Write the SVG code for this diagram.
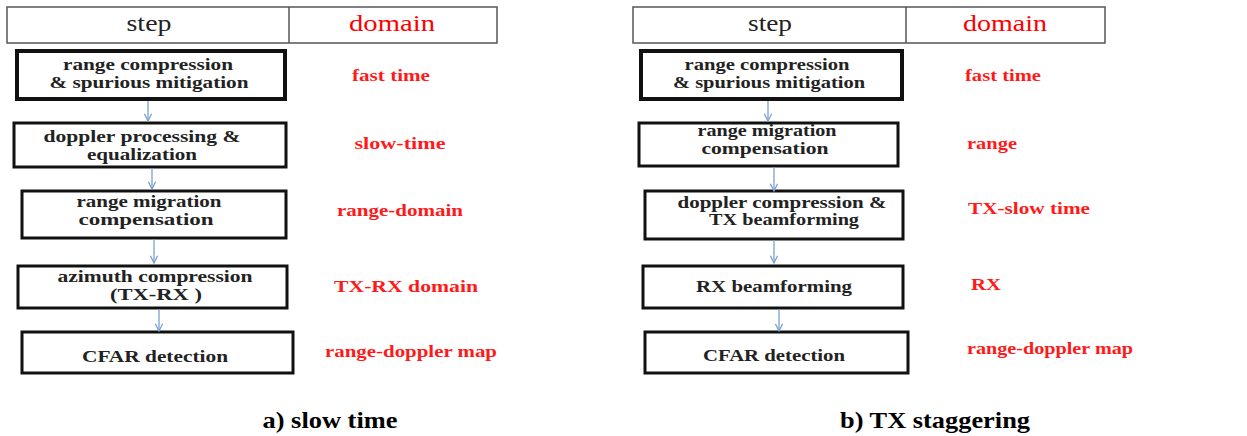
<svg xmlns="http://www.w3.org/2000/svg" width="1247" height="436" viewBox="0 0 1247 436">
  <style>
    .hdr { fill: #fff; stroke: #555; stroke-width: 1.5; }
    .box { fill: #fff; stroke: #111; stroke-width: 3; }
    .box1 { fill: #fff; stroke: #111; stroke-width: 4; }
    .th { font-family: "Liberation Serif", "Times New Roman", serif; font-size: 24px; text-anchor: middle; }
    .step { fill: #222; }
    .dom { fill: #ff0000; }
    .t { font-family: "Liberation Serif", "Times New Roman", serif; font-size: 16.5px; font-weight: bold; fill: #222; text-anchor: middle; }
    .d { font-family: "Liberation Serif", "Times New Roman", serif; font-size: 17px; font-weight: bold; fill: #ff1a1a; text-anchor: middle; }
    .cap { font-family: "Liberation Serif", "Times New Roman", serif; font-size: 23px; font-weight: bold; fill: #000; text-anchor: middle; }
    .conn line { stroke: #7aa0d4; stroke-width: 1.3; marker-end: url(#head); }
  </style>
  <defs>
    <marker id="head" viewBox="0 0 10 10" refX="9" refY="5" markerWidth="9" markerHeight="9" markerUnits="userSpaceOnUse" orient="auto">
      <path d="M1,1 L9,5 L1,9" fill="none" stroke="#7aa0d4" stroke-width="1.4"/>
    </marker>
  </defs>
  <rect width="1247" height="436" fill="#fff"/>

  <!-- Left panel: slow time -->
  <g id="a-header">
    <rect class="hdr" x="7" y="7" width="490" height="36"/>
    <line x1="289" y1="7" x2="289" y2="43" stroke="#555" stroke-width="1.5"/>
    <text class="th step" x="149" y="31" textLength="45" lengthAdjust="spacingAndGlyphs">step</text>
    <text class="th dom" x="392" y="31" textLength="86" lengthAdjust="spacingAndGlyphs">domain</text>
  </g>
  <g id="a-range-compression">
    <rect class="box1" x="17" y="51" width="268" height="48"/>
    <text class="t" x="148" y="70" textLength="170" lengthAdjust="spacingAndGlyphs">range compression</text>
    <text class="t" x="149" y="88" textLength="199" lengthAdjust="spacingAndGlyphs">&amp; spurious mitigation</text>
    <text class="d" x="391" y="81" textLength="78" lengthAdjust="spacingAndGlyphs">fast time</text>
  </g>
  <g id="a-doppler-processing">
    <rect class="box" x="14" y="123" width="272" height="44"/>
    <text class="t" x="142" y="142" textLength="197" lengthAdjust="spacingAndGlyphs">doppler processing &amp;</text>
    <text class="t" x="142" y="160" textLength="110" lengthAdjust="spacingAndGlyphs">equalization</text>
    <text class="d" x="400" y="149" textLength="91" lengthAdjust="spacingAndGlyphs">slow-time</text>
  </g>
  <g id="a-range-migration">
    <rect class="box" x="22" y="191" width="264" height="47"/>
    <text class="t" x="149" y="207" textLength="145" lengthAdjust="spacingAndGlyphs">range migration</text>
    <text class="t" x="146" y="225" textLength="135" lengthAdjust="spacingAndGlyphs">compensation</text>
    <text class="d" x="400" y="216" textLength="126" lengthAdjust="spacingAndGlyphs">range-domain</text>
  </g>
  <g id="a-azimuth-compression">
    <rect class="box" x="18" y="266" width="269" height="42"/>
    <text class="t" x="155" y="282" textLength="195" lengthAdjust="spacingAndGlyphs">azimuth compression</text>
    <text class="t" x="156" y="300" textLength="92" lengthAdjust="spacingAndGlyphs">(TX-RX )</text>
    <text class="d" x="406" y="292" textLength="144" lengthAdjust="spacingAndGlyphs">TX-RX domain</text>
  </g>
  <g id="a-cfar">
    <rect class="box" x="22" y="332" width="271" height="41"/>
    <text class="t" x="155" y="362" textLength="146" lengthAdjust="spacingAndGlyphs">CFAR detection</text>
    <text class="d" x="411" y="357" textLength="172" lengthAdjust="spacingAndGlyphs">range-doppler map</text>
  </g>
  <text class="cap" x="330" y="428" textLength="135" lengthAdjust="spacingAndGlyphs">a) slow time</text>

  <!-- Right panel: TX staggering -->
  <g id="b-header">
    <rect class="hdr" x="633" y="7" width="472" height="36"/>
    <line x1="906" y1="7" x2="906" y2="43" stroke="#555" stroke-width="1.5"/>
    <text class="th step" x="770" y="31" textLength="44" lengthAdjust="spacingAndGlyphs">step</text>
    <text class="th dom" x="1005" y="31" textLength="84" lengthAdjust="spacingAndGlyphs">domain</text>
  </g>
  <g id="b-range-compression">
    <rect class="box1" x="641" y="51" width="261" height="48"/>
    <text class="t" x="767" y="70" textLength="165" lengthAdjust="spacingAndGlyphs">range compression</text>
    <text class="t" x="769" y="88" textLength="192" lengthAdjust="spacingAndGlyphs">&amp; spurious mitigation</text>
    <text class="d" x="1003" y="81" textLength="76" lengthAdjust="spacingAndGlyphs">fast time</text>
  </g>
  <g id="b-range-migration">
    <rect class="box" x="639" y="123" width="259" height="43"/>
    <text class="t" x="767" y="136" textLength="139" lengthAdjust="spacingAndGlyphs">range migration</text>
    <text class="t" x="765" y="154" textLength="127" lengthAdjust="spacingAndGlyphs">compensation</text>
    <text class="d" x="992" y="149" textLength="50" lengthAdjust="spacingAndGlyphs">range</text>
  </g>
  <g id="b-doppler-compression">
    <rect class="box" x="645" y="191" width="258" height="48"/>
    <text class="t" x="782" y="208" textLength="209" lengthAdjust="spacingAndGlyphs">doppler compression  &amp;</text>
    <text class="t" x="784" y="225" textLength="150" lengthAdjust="spacingAndGlyphs">TX beamforming</text>
    <text class="d" x="1029" y="214" textLength="122" lengthAdjust="spacingAndGlyphs">TX-slow time</text>
  </g>
  <g id="b-rx-beamforming">
    <rect class="box" x="643" y="266" width="260" height="42"/>
    <text class="t" x="774" y="292" textLength="156" lengthAdjust="spacingAndGlyphs">RX beamforming</text>
    <text class="d" x="986" y="290" textLength="30" lengthAdjust="spacingAndGlyphs">RX</text>
  </g>
  <g id="b-cfar">
    <rect class="box" x="645" y="332" width="263" height="41"/>
    <text class="t" x="774" y="361" textLength="142" lengthAdjust="spacingAndGlyphs">CFAR detection</text>
    <text class="d" x="1050" y="354" textLength="166" lengthAdjust="spacingAndGlyphs">range-doppler map</text>
  </g>
  <text class="cap" x="935" y="428" textLength="190" lengthAdjust="spacingAndGlyphs">b) TX staggering</text>

  <!-- Connectors between processing steps -->
  <g id="connectors" class="conn">
    <line x1="148" y1="101" x2="148" y2="121"/>
    <line x1="152" y1="168" x2="152" y2="189"/>
    <line x1="154" y1="239" x2="154" y2="263"/>
    <line x1="159" y1="309" x2="159" y2="331"/>
    <line x1="768" y1="101" x2="768" y2="121"/>
    <line x1="774" y1="167" x2="774" y2="191"/>
    <line x1="774" y1="240" x2="774" y2="263"/>
    <line x1="779" y1="309" x2="779" y2="331"/>
  </g>
</svg>
